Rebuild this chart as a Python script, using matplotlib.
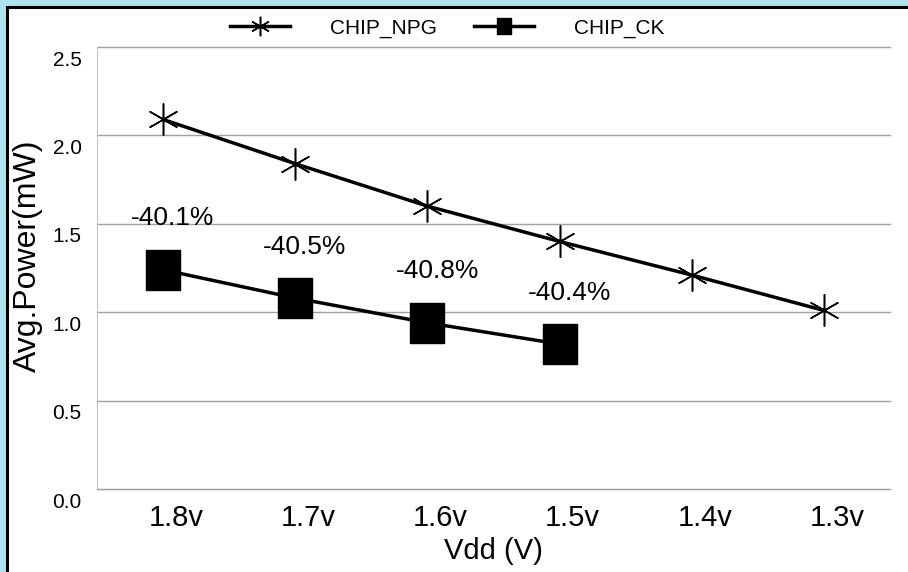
import matplotlib
matplotlib.use("Agg")
import matplotlib.pyplot as plt
import matplotlib.transforms as mtransforms
import numpy as np
from matplotlib.lines import Line2D
from matplotlib.path import Path
from matplotlib.patches import Rectangle

# --- data ---
vdd_labels = ["1.8v", "1.7v", "1.6v", "1.5v", "1.4v", "1.3v"]
series_names = ["CHIP_NPG", "CHIP_CK"]
npg_power = [2.09, 1.84, 1.60, 1.40, 1.21, 1.01]
ck_power = [1.24, 1.08, 0.94, 0.82]
reduction_labels = ["-40.1%", "-40.5%", "-40.8%", "-40.4%"]
y_ticks = [0.0, 0.5, 1.0, 1.5, 2.0, 2.5]

plt.rcParams["font.family"] = ["Liberation Sans", "DejaVu Sans"]

W, H = 908, 572
fig = plt.figure(figsize=(W / 100, H / 100), dpi=100, facecolor="#aee3f0")

# white slide box with black frame (cut off at right/bottom)
fig.patches.append(Rectangle((7 / W, -0.1), 1.2, 1 - 7 / H + 0.1,
                             transform=fig.transFigure, facecolor="white",
                             edgecolor="black", linewidth=2.2, zorder=-5))

ax = fig.add_axes([97 / W, 83 / H, 793 / W, 442 / H])
ax.set_facecolor("white")

# square marker slightly taller than wide, like in the picture
sq = Path([(-17, -20), (17, -20), (17, 20), (-17, 20), (-17, -20)],
          [Path.MOVETO, Path.LINETO, Path.LINETO, Path.LINETO, Path.CLOSEPOLY])
# 6-arm asterisk with one arm vertical
star = (6, 2, 0)

x = np.arange(len(vdd_labels))
ax.plot(x, npg_power, color="black", lw=2.5, marker=star, markersize=23,
        mew=1.1, mec="black", zorder=3)
x_ck = x[:len(ck_power)]
ax.plot(x_ck, ck_power, color="black", lw=2.5, marker=sq, markersize=29,
        mfc="black", mec="black", zorder=3)

for xi, yi, txt in zip(x_ck, ck_power, reduction_labels):
    ax.annotate(txt, (xi, yi), xytext=(7, 37), textcoords="offset points",
                ha="center", va="center", fontsize=19)

ax.set_xlim(-0.5, len(vdd_labels) - 0.5)
ax.set_ylim(0, 2.5)
ax.set_yticks(y_ticks)
ax.set_yticklabels([f"{v:.1f}" for v in y_ticks], fontsize=15)
ax.set_xticks(x)
ax.set_xticklabels(vdd_labels, fontsize=21)
ax.tick_params(length=0)
ax.tick_params(axis="y", pad=11)
ax.tick_params(axis="x", pad=11)

ax.grid(axis="y", color="#a0a0a0", lw=1, clip_on=False)
ax.set_axisbelow(True)
for s in ["top", "right"]:
    ax.spines[s].set_visible(False)
ax.spines["left"].set_color("#c4c4c4")
ax.spines["bottom"].set_color("#a0a0a0")

# labels in the picture sit a bit right / below their ticks
for lbl in ax.get_xticklabels():
    lbl.set_transform(lbl.get_transform() + mtransforms.ScaledTranslation(0.13, 0, fig.dpi_scale_trans))
for lbl in ax.get_yticklabels():
    lbl.set_transform(lbl.get_transform() + mtransforms.ScaledTranslation(0, -0.11, fig.dpi_scale_trans))

fig.text(28 / W, 1 - 256 / H, "Avg.Power(mW)", rotation=90, ha="center",
         va="center", fontsize=23)
fig.text(493 / W, 1 - 551 / H, "Vdd (V)", ha="center", va="center", fontsize=21)

handles = [
    Line2D([], [], color="black", lw=2.5, marker=star, markersize=14, mew=1.1),
    Line2D([], [], color="black", lw=2.5, marker=sq, markersize=12, mfc="black"),
]
fig.legend(handles, series_names, loc="center", bbox_to_anchor=(447 / W, 1 - 28 / H),
           ncol=2, frameon=False, fontsize=15, handlelength=2.9,
           handletextpad=1.9, columnspacing=1.8)

fig.savefig("out.png", dpi=100, facecolor=fig.get_facecolor())
